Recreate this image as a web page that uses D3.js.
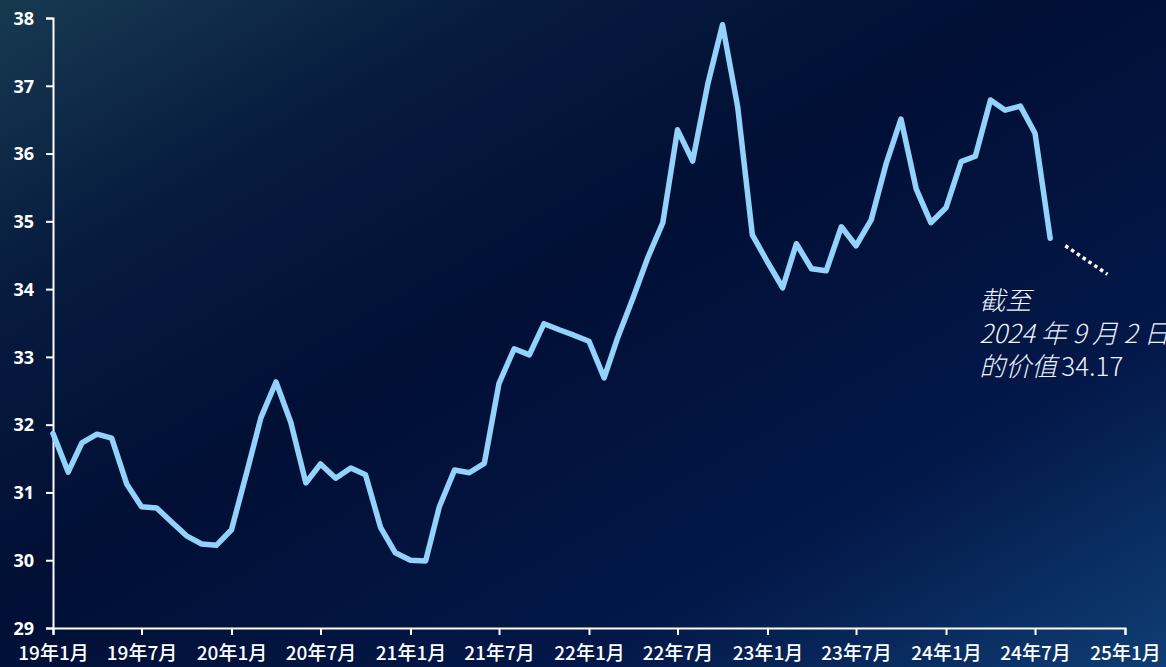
<!DOCTYPE html>
<html>
<head>
<meta charset="utf-8">
<script src="https://cdn.jsdelivr.net/npm/d3@7"></script>
<style>
  html, body { margin: 0; padding: 0; background: #020f36; overflow: hidden; }
  .tick text { fill: #ffffff; }
</style>
</head>
<body>
<div id="chart"></div>
<script>
// monthly values, Jan 2019 .. Aug 2024
var startMonth = "2019-01";
var values = [
  31.87, 31.30, 31.73, 31.86, 31.80, 31.12, 30.79, 30.77, 30.56, 30.36, 30.24, 30.22,
  30.45, 31.29, 32.10, 32.63, 32.04, 31.14, 31.42, 31.21, 31.36, 31.26, 30.48, 30.11,
  30.00, 29.99, 30.79, 31.33, 31.29, 31.43, 32.61, 33.12, 33.03, 33.49, 33.40, 33.32,
  33.23, 32.69, 33.29, 33.87, 34.46, 34.98, 36.35, 35.89, 37.03, 37.90, 36.69, 34.80,
  34.40, 34.02, 34.67, 34.30, 34.27, 34.92, 34.64, 35.02, 35.86, 36.51, 35.48, 34.98,
  35.20, 35.88, 35.96, 36.79, 36.64, 36.70, 36.30, 34.75
];
var yTicks = [29, 30, 31, 32, 33, 34, 35, 36, 37, 38];
var xDomain = ["2019-01-01", "2025-01-01"];
// dotted pointer towards the latest value
var pointer = [
  { date: "2024-09-01", value: 34.64 },
  { date: "2024-11-26", value: 34.22 }
];
var noteLines = ["截至", "2024 年 9 月 2 日"];
var notePrefix = "的价值";
var noteValue = "34.17";

var parseDay = d3.timeParse("%Y-%m-%d");
var start = d3.timeParse("%Y-%m")(startMonth);
var data = values.map(function(v, i) {
  return { date: d3.timeMonth.offset(start, i), value: v };
});

var W = 1166, H = 667;
var margin = {top: 18, right: 41, bottom: 39, left: 53},
    width = W - margin.left - margin.right,
    height = H - margin.top - margin.bottom;

var root = d3.select("#chart")
  .append("svg")
    .attr("width", W)
    .attr("height", H);

// background gradient
var defs = root.append("defs");
var grad = defs.append("linearGradient")
  .attr("id", "bg")
  .attr("x1", "0%").attr("y1", "0%")
  .attr("x2", "100%").attr("y2", "100%");
grad.append("stop").attr("offset", "0%").attr("stop-color", "#173a50");
grad.append("stop").attr("offset", "22%").attr("stop-color", "#071b3f");
grad.append("stop").attr("offset", "45%").attr("stop-color", "#010f35");
grad.append("stop").attr("offset", "75%").attr("stop-color", "#031849");
grad.append("stop").attr("offset", "100%").attr("stop-color", "#0f3e74");
root.append("rect")
  .attr("width", W).attr("height", H)
  .attr("fill", "url(#bg)");

var svg = root.append("g")
  .attr("transform", "translate(" + margin.left + "," + margin.top + ")");

var x = d3.scaleTime()
  .domain(xDomain.map(parseDay))
  .range([0, width]);

var y = d3.scaleLinear()
  .domain([29, 38])
  .range([height, 0]);

var fmtX = function(d) {
  return d3.timeFormat("%y")(d) + "年" + (d.getMonth() + 1) + "月";
};

// Y axis
var yAxis = svg.append("g")
  .call(d3.axisLeft(y).tickValues(yTicks).tickFormat(d3.format("d")).tickSize(7).tickSizeOuter(7).tickPadding(12));
yAxis.selectAll("path, line").attr("stroke", "#ffffff").attr("stroke-width", 2);
yAxis.selectAll("text")
  .attr("font-family", "'Open Sans', 'Noto Sans', sans-serif")
  .attr("font-weight", 700)
  .attr("font-size", 18)
  .attr("dy", "0.35em");

// X axis
var xAxis = svg.append("g")
  .attr("transform", "translate(0," + height + ")")
  .call(d3.axisBottom(x).ticks(d3.timeMonth.every(6)).tickFormat(fmtX).tickSize(7).tickSizeOuter(7).tickPadding(12));
xAxis.selectAll("path, line").attr("stroke", "#ffffff").attr("stroke-width", 2);
xAxis.selectAll("text")
  .attr("font-family", "'Noto Sans CJK SC', sans-serif")
  .attr("font-weight", 500)
  .attr("font-size", 19);

// line
var line = d3.line()
  .x(function(d) { return x(d.date); })
  .y(function(d) { return y(d.value); });

svg.append("path")
  .datum(data)
  .attr("fill", "none")
  .attr("stroke", "#92d2fb")
  .attr("stroke-width", 5.5)
  .attr("stroke-linejoin", "round")
  .attr("stroke-linecap", "round")
  .attr("d", line);

// dotted pointer
svg.append("path")
  .datum(pointer.map(function(p) { return { date: parseDay(p.date), value: p.value }; }))
  .attr("fill", "none")
  .attr("stroke", "#ffffff")
  .attr("stroke-width", 3.5)
  .attr("stroke-dasharray", "3.5 3.5")
  .attr("d", line);

// annotation
var noteX = x(parseDay("2024-03-09"));
var note = svg.append("g")
  .attr("font-family", "'Noto Sans CJK SC', sans-serif")
  .attr("font-weight", 300)
  .attr("font-size", 26)
  .attr("fill", "#eef2fa");
noteLines.forEach(function(t, i) {
  note.append("text")
    .attr("x", noteX)
    .attr("y", y(34) + 21 + i * 33)
    .attr("font-style", "italic")
    .text(t);
});
var last = note.append("text")
  .attr("x", noteX)
  .attr("y", y(34) + 21 + 2 * 33);
last.append("tspan").attr("font-style", "italic").text(notePrefix);
last.append("tspan").attr("dx", 4).text(noteValue);
</script>
</body>
</html>
